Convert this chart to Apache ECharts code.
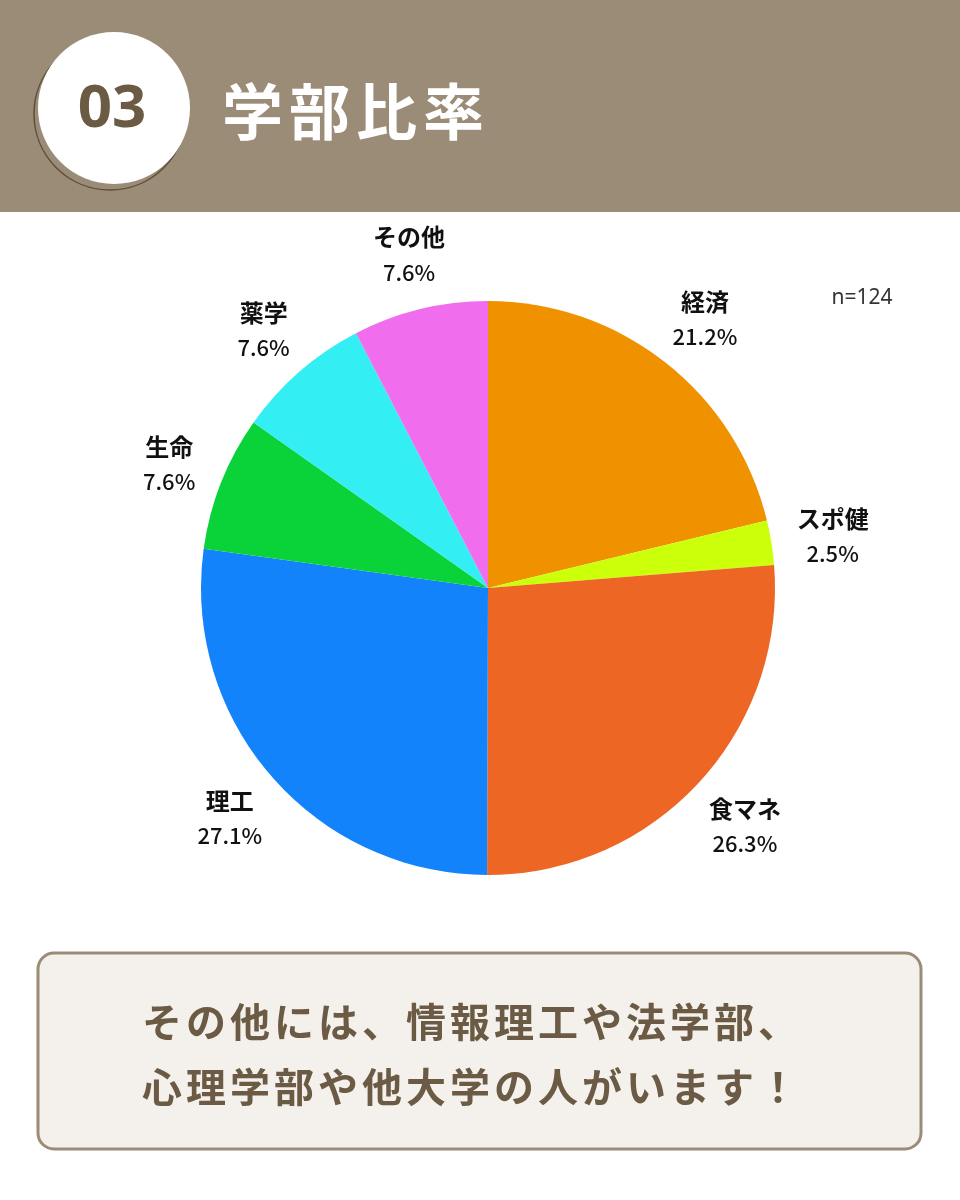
<!DOCTYPE html>
<html><head><meta charset="utf-8">
<script src="https://cdn.jsdelivr.net/npm/echarts@6/dist/echarts.min.js"></script>
<style>html,body{margin:0;padding:0;background:#fff}#c{width:960px;height:1200px}</style>
</head><body><div id="c"></div>
<script>
const categories = ['経済', 'スポ健', '食マネ', '理工', '生命', '薬学', 'その他'];
const values = [21.2, 2.5, 26.3, 27.1, 7.6, 7.6, 7.6];
const colors = ['#F09200', '#CCFF0A', '#EE6624', '#1283FA', '#0AD33A', '#33EEF2', '#F06EEE'];
const sampleNote = 'n=124';
const titleText = '学部比率';
const badgeText = '03';
const noteLines = ['その他には、情報理工や法学部、', '心理学部や他大学の人がいます！'];

const FONT = '"Noto Sans CJK JP", "Noto Sans", sans-serif';
const chart = echarts.init(document.getElementById('c'), null, {renderer: 'canvas'});
const data = categories.map((c, i) => ({name: c, value: values[i], itemStyle: {color: colors[i]}}));

function spacedText(str, x0, step, y, font, fill) {
  return Array.from(str).map((ch, i) => ({
    type: 'text', x: x0 + step / 2 + i * step, y: y,
    style: {text: ch, font: font, fill: fill, align: 'center', verticalAlign: 'middle'}, z: 3
  }));
}

const graphics = [
  {type: 'rect', shape: {x: 0, y: 0, width: 960, height: 212}, style: {fill: '#9B8C77'}, z: 0},
  {type: 'circle', shape: {cx: 110, cy: 114, r: 76}, style: {fill: 'none', stroke: '#5E4E3A', lineWidth: 1.5}, z: 1},
  {type: 'circle', shape: {cx: 114, cy: 108, r: 76}, style: {fill: '#ffffff'}, z: 2},
  {type: 'text', x: 112, y: 110, style: {text: badgeText, font: 'bold 60px "Noto Sans", sans-serif', fill: '#6B5A44', align: 'center', verticalAlign: 'middle'}, z: 3},
  {type: 'text', x: 862, y: 298, style: {text: sampleNote, font: '21px "Noto Sans", sans-serif', fill: '#333333', align: 'center', verticalAlign: 'middle'}, z: 3},
  {type: 'rect', shape: {x: 38, y: 953, width: 883, height: 196, r: 16}, style: {fill: '#F4F1EC', stroke: '#9B8C77', lineWidth: 3}, z: 1}
].concat(
  spacedText(titleText, 219, 67, 112, 'bold 61px ' + FONT, '#ffffff'),
  spacedText(noteLines[0], 140, 44, 1022, 'bold 40px ' + FONT, '#6B5A44'),
  spacedText(noteLines[1], 140, 44, 1087, 'bold 40px ' + FONT, '#6B5A44')
);

chart.setOption({
  animation: false,
  backgroundColor: '#ffffff',
  graphic: graphics,
  series: [
    {
      type: 'pie', center: [488, 588], radius: [0, 287], startAngle: 90, clockwise: true,
      silent: true, label: {show: false}, labelLine: {show: false},
      itemStyle: {borderWidth: 0}, data: data
    },
    {
      type: 'pie', center: [491, 591], radius: [300, 386], startAngle: 90, clockwise: true,
      silent: true, labelLine: {show: false},
      itemStyle: {color: 'rgba(0,0,0,0)', borderWidth: 0},
      label: {
        show: true, position: 'inside',
        formatter: p => '{n|' + p.name + '}\n{p|' + p.value.toFixed(1) + '%}',
        rich: {
          n: {fontFamily: FONT, fontWeight: 'bold', fontSize: 24, color: '#111111', lineHeight: 35, align: 'center'},
          p: {fontFamily: FONT, fontWeight: 500, fontSize: 22, color: '#111111', lineHeight: 35, align: 'center'}
        }
      },
      data: categories.map((c, i) => ({name: c, value: values[i]}))
    }
  ]
});
</script></body></html>
